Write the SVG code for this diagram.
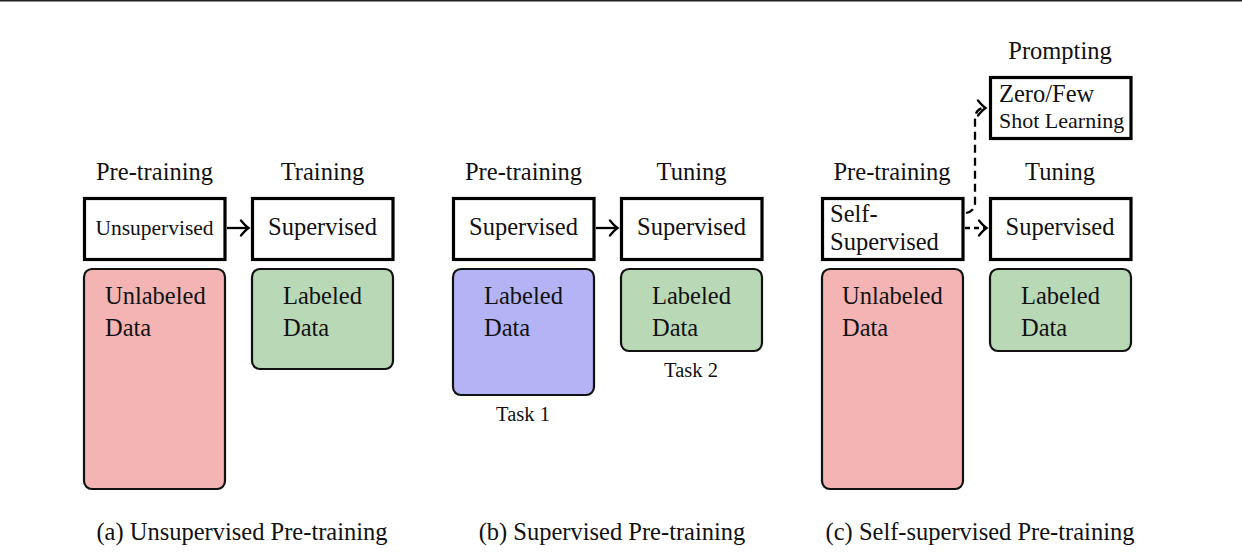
<svg xmlns="http://www.w3.org/2000/svg" width="1242" height="560" viewBox="0 0 1242 560">
<defs>
<style>
text{font-family:"Liberation Serif","Times New Roman",serif;fill:#111;}
.t{font-size:24.5px;}
.c{text-anchor:middle;}
.sm{font-size:21.5px;}
.sl{font-size:22px;}
.tk{font-size:20.5px;}
.box{fill:#fff;stroke:#000;stroke-width:3.2;}
.data{stroke:#111;stroke-width:2.2;}
.pink{fill:#f4b4b4;}
.green{fill:#b9d8b5;}
.blue{fill:#b3b3f6;}
.ln{fill:none;stroke:#000;stroke-width:2.3;}
.dash{stroke-dasharray:8,5;}
</style>
<marker id="ah" markerUnits="userSpaceOnUse" markerWidth="16" markerHeight="18" viewBox="-9 -9 11 18" refX="0" refY="0" orient="auto">
<path d="M -7 -7.5 Q -2.5 -2 0.5 0 Q -2.5 2 -7 7.5" fill="none" stroke="#000" stroke-width="2.3" stroke-linecap="round"/>
</marker>
</defs>
<rect x="0" y="0" width="1242" height="560" fill="#fff"/>
<line x1="0" y1="0.8" x2="1242" y2="0.8" stroke="#222" stroke-width="1.6"/>

<g id="connectors">
<line class="ln" x1="227" y1="228" x2="248" y2="228" marker-end="url(#ah)"/>
<line class="ln" x1="596" y1="228" x2="617" y2="228" marker-end="url(#ah)"/>
<line class="ln" x1="965" y1="228" x2="986" y2="228" stroke-dasharray="5,4" marker-end="url(#ah)"/>
<path class="ln dash" d="M 966 213 Q 975 211 975 203 L 975 120 Q 975 108 985 108" marker-end="url(#ah)"/>
</g>

<g id="a-pretraining">
<text class="t c" x="154.5" y="180">Pre-training</text>
<rect class="box" x="84.5" y="198.5" width="140.5" height="61"/>
<text class="sm c" x="154.5" y="235">Unsupervised</text>
</g>
<g id="a-unlabeled">
<rect class="data pink" x="84" y="269" width="141" height="220" rx="8"/>
<text class="t" x="105" y="304">Unlabeled</text>
<text class="t" x="105" y="336">Data</text>
</g>
<g id="a-training">
<text class="t c" x="322.5" y="180">Training</text>
<rect class="box" x="252.5" y="198.5" width="140.5" height="61"/>
<text class="t c" x="322.5" y="235">Supervised</text>
</g>
<g id="a-labeled">
<rect class="data green" x="252" y="269" width="141" height="100" rx="8"/>
<text class="t" x="283" y="304">Labeled</text>
<text class="t" x="283" y="336">Data</text>
</g>
<text class="t c" x="242" y="540">(a) Unsupervised Pre-training</text>

<g id="b-pretraining">
<text class="t c" x="523.5" y="180">Pre-training</text>
<rect class="box" x="453.5" y="198.5" width="140.5" height="61"/>
<text class="t c" x="523.5" y="235">Supervised</text>
</g>
<g id="b-labeled1">
<rect class="data blue" x="453" y="269" width="141" height="126" rx="8"/>
<text class="t" x="484" y="304">Labeled</text>
<text class="t" x="484" y="336">Data</text>
<text class="tk c" x="523" y="421">Task 1</text>
</g>
<g id="b-tuning">
<text class="t c" x="691.5" y="180">Tuning</text>
<rect class="box" x="621.5" y="198.5" width="140.5" height="61"/>
<text class="t c" x="691.5" y="235">Supervised</text>
</g>
<g id="b-labeled2">
<rect class="data green" x="621" y="269" width="141" height="82" rx="8"/>
<text class="t" x="652" y="304">Labeled</text>
<text class="t" x="652" y="336">Data</text>
<text class="tk c" x="691" y="377">Task 2</text>
</g>
<text class="t c" x="612" y="540">(b) Supervised Pre-training</text>

<g id="c-pretraining">
<text class="t c" x="892" y="180">Pre-training</text>
<rect class="box" x="822.5" y="198.5" width="140.5" height="61"/>
<text class="t" x="830" y="222">Self-</text>
<text class="t" x="830" y="250">Supervised</text>
</g>
<g id="c-unlabeled">
<rect class="data pink" x="822" y="269" width="141" height="220" rx="8"/>
<text class="t" x="842" y="304">Unlabeled</text>
<text class="t" x="842" y="336">Data</text>
</g>
<g id="c-prompting">
<text class="t c" x="1060" y="59">Prompting</text>
<rect class="box" x="990.5" y="77.5" width="140.5" height="61"/>
<text class="t" x="999" y="102">Zero/Few</text>
<text class="sl" x="999" y="128">Shot Learning</text>
</g>
<g id="c-tuning">
<text class="t c" x="1060" y="180">Tuning</text>
<rect class="box" x="990.5" y="198.5" width="140.5" height="61"/>
<text class="t c" x="1060" y="235">Supervised</text>
</g>
<g id="c-labeled">
<rect class="data green" x="990" y="269" width="141" height="82" rx="8"/>
<text class="t" x="1021" y="304">Labeled</text>
<text class="t" x="1021" y="336">Data</text>
</g>
<text class="t c" x="980" y="540">(c) Self-supervised Pre-training</text>
</svg>
